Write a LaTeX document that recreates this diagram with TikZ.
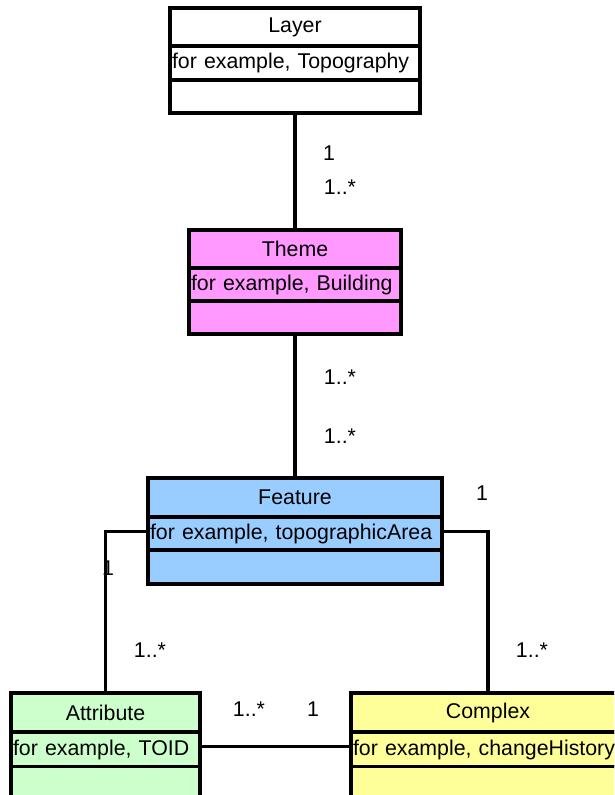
\documentclass[tikz,border=0pt]{standalone}
\usepackage{fontspec}
\setmainfont{Liberation Sans}
\definecolor{themec}{HTML}{FF99FF}
\definecolor{featc}{HTML}{99CCFF}
\definecolor{attrc}{HTML}{CCFFCC}
\definecolor{cplxc}{HTML}{FFFF99}
\begin{document}
\begin{tikzpicture}[x=0.75pt,y=-0.75pt,
  every node/.style={font=\fontsize{16pt}{18pt}\selectfont},
  comp/.style={draw, line width=2.4pt, rectangle, inner sep=0pt, outer sep=0pt},
  compL/.style={comp, align=left, inner xsep=1.5pt},
  conn/.style={line width=2.4pt},
  mult/.style={inner sep=0pt}]
\clip (0,0) rectangle (614,795);
\fill[white] (0,0) rectangle (614,795);
% Layer
\node[comp, fill=white, minimum width=187.5pt, minimum height=28.5pt] (layerA) at (295,27) {Layer};
\node[compL, fill=white, text width=184.5pt, minimum height=25.5pt] (layerB) at (295,63) {for example, Topography};
\node[comp, fill=white, minimum width=187.5pt, minimum height=24.75pt] (layerC) at (295,96.5) {};
% Theme
\node[comp, fill=themec, minimum width=159pt, minimum height=28.5pt] (themeA) at (295,249) {Theme};
\node[compL, fill=themec, text width=156pt, minimum height=24.75pt] (themeB) at (295,284.5) {for example, Building};
\node[comp, fill=themec, minimum width=159pt, minimum height=24.75pt] (themeC) at (295,317.5) {};
% Feature
\node[comp, fill=featc, minimum width=220.5pt, minimum height=29.25pt] (featA) at (295,497.5) {Feature};
\node[compL, fill=featc, text width=217.5pt, minimum height=24.75pt] (featB) at (295,533.5) {for example, topographicArea};
\node[comp, fill=featc, minimum width=220.5pt, minimum height=25.5pt] (featC) at (295,567) {};
% Attribute
\node[comp, fill=attrc, minimum width=141.75pt, minimum height=29.25pt] (attrA) at (105.5,712.5) {Attribute};
\node[compL, fill=attrc, text width=138.75pt, minimum height=26.25pt] (attrB) at (105.5,749.5) {for example, TOID};
\node[comp, fill=attrc, minimum width=141.75pt, minimum height=26.25pt] (attrC) at (105.5,784) {};
% Complex
\node[comp, fill=cplxc, minimum width=205.5pt, minimum height=29.25pt] (cplxA) at (488,712.5) {Complex};
\node[compL, fill=cplxc, text width=202.5pt, minimum height=26.25pt] (cplxB) at (488,749.5) {for example, changeHistory};
\node[comp, fill=cplxc, minimum width=205.5pt, minimum height=26.25pt] (cplxC) at (488,784) {};
% connectors
\draw[conn] (layerC.south) -- (themeA.north);
\draw[conn] (themeC.south) -- (featA.north);
\draw[conn] ([yshift=1.5pt]featB.west) -| (attrA.north);
\draw[conn] ([yshift=1.5pt]featB.east) -| (cplxA.north);
\draw[conn] ([yshift=2.5pt]attrB.east) -- ([yshift=2.5pt]cplxB.west);
% multiplicities
\node[mult] (m1) at (329,153) {1};
\node[mult] (m2) at (340,187) {1..*};
\node[mult] (m3) at (340,377) {1..*};
\node[mult] (m4) at (340,436) {1..*};
\node[mult] (m5) at (482,493) {1};
\node[mult] (m6) at (108,568) {1};
\node[mult] (m7) at (150,650) {1..*};
\node[mult] (m8) at (532,650) {1..*};
\node[mult] (m9) at (249,709) {1..*};
\node[mult] (m10) at (313,709) {1};
\end{tikzpicture}
\end{document}
